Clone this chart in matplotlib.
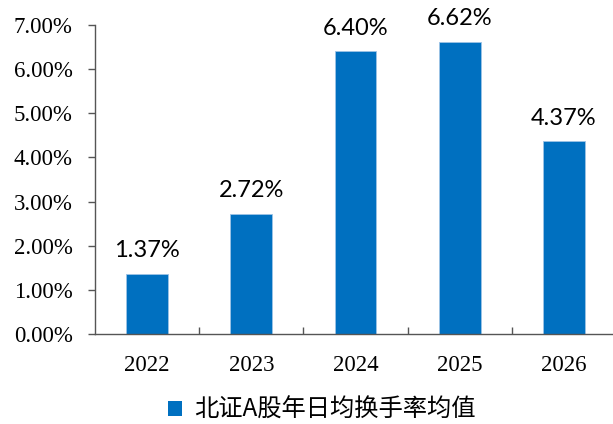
import numpy as np
import matplotlib.pyplot as plt
from matplotlib.patches import Patch

#%% Data
years = ['2022', '2023', '2024', '2025', '2026']
turnover = [1.37, 2.72, 6.40, 6.62, 4.37]      # 北证A股年日均换手率均值 (%)
series_name = '北证A股年日均换手率均值'
yticks = np.arange(0, 7.01, 1.0)

#%% Plot
fig = plt.figure(figsize=(6.13, 4.24), dpi=100)
ax = fig.add_axes([95 / 613, (424 - 334) / 424, (616 - 95) / 613, (334 - 25) / 424])

bar_color = '#0070C0'
x = np.arange(len(years))
ax.bar(x, turnover, width=0.4, color=bar_color, edgecolor='#9DC3E6', linewidth=0.6)

for xi, v in zip(x, turnover):
    ax.annotate(f'{v:.2f}%', (xi, v), xytext=(0, 9), textcoords='offset points',
                ha='center', va='bottom', fontsize=17, family='Lato')

ax.set_xlim(-0.5, len(years) - 0.5)
ax.set_ylim(0, 7)
ax.set_yticks(yticks)
ax.set_yticklabels([f'{t:.2f}%' for t in yticks], family='Liberation Serif', fontsize=16.5)
ax.set_xticks(x)
ax.set_xticklabels(years, family='Liberation Serif', fontsize=16.5)

# category separators on the x axis
ax.set_xticks(np.arange(0.5, len(years) - 0.5, 1.0), minor=True)
ax.tick_params(axis='x', which='major', length=0, pad=15)
ax.tick_params(axis='x', which='minor', direction='in', length=5, width=1, color='#555555')
ax.tick_params(axis='y', direction='out', length=5, width=1, color='#555555', pad=11)

for s in ['top', 'right']:
    ax.spines[s].set_visible(False)
ax.spines['left'].set_color('#555555')
ax.spines['bottom'].set_color('#555555')
ax.spines['left'].set_linewidth(1)
ax.spines['bottom'].set_linewidth(1)

handle = Patch(facecolor=bar_color, edgecolor='none')
fig.legend([handle], [series_name], loc='center', bbox_to_anchor=(322 / 613, 1 - 410 / 424),
           frameon=False, handlelength=0.6, handleheight=0.6, handletextpad=0.5,
           prop={'family': ['Noto Sans CJK SC', 'DejaVu Sans'], 'size': 17.5})

fig.savefig('out.png', dpi=100)
